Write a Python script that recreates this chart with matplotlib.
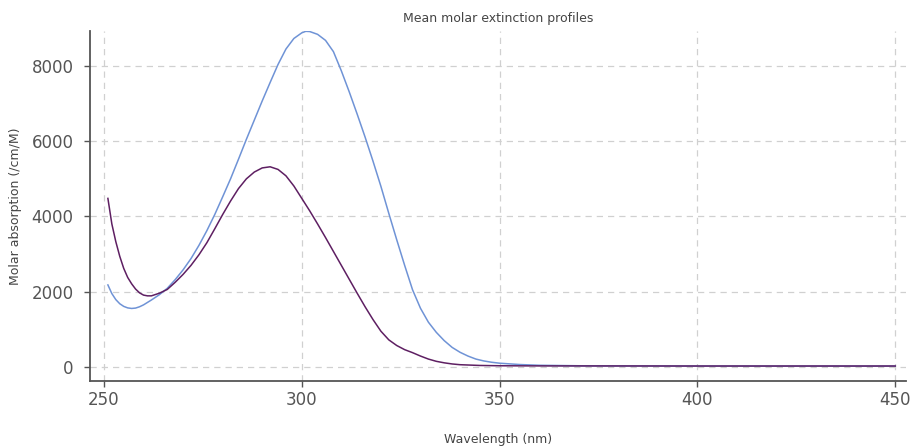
import matplotlib
matplotlib.use("Agg")
import matplotlib.pyplot as plt

# wavelengths (nm) and molar absorption (/cm/M)
wl_blue = [251, 252, 253, 254, 255, 256, 257, 258, 259, 260, 262, 264, 266, 268,
           270, 272, 274, 276, 278, 280, 282, 284, 286, 288, 290, 292, 294, 296,
           298, 300, 301, 302, 304, 306, 308, 310, 312, 314, 316, 318, 320, 322,
           324, 326, 328, 330, 332, 334, 336, 338, 340, 342, 344, 346, 348, 350,
           355, 360, 370, 380, 400, 420, 450]
abs_blue = [2180, 1950, 1790, 1680, 1610, 1570, 1555, 1565, 1600, 1650, 1780, 1920,
            2090, 2320, 2580, 2880, 3230, 3620, 4050, 4520, 5000, 5520, 6050, 6560,
            7070, 7560, 8040, 8450, 8730, 8880, 8920, 8915, 8840, 8680, 8380, 7870,
            7310, 6720, 6110, 5470, 4800, 4080, 3380, 2700, 2050, 1560, 1190, 920,
            700, 520, 390, 290, 210, 160, 125, 100, 65, 45, 32, 28, 25, 24, 24]

wl_purple = [251, 252, 253, 254, 255, 256, 257, 258, 259, 260, 261, 262, 264, 266,
             268, 270, 272, 274, 276, 278, 280, 282, 284, 286, 288, 290, 292, 294,
             296, 298, 300, 302, 304, 306, 308, 310, 312, 314, 316, 318, 320, 322,
             324, 326, 328, 330, 332, 334, 336, 338, 340, 345, 350, 360, 400, 450]
abs_purple = [4480, 3800, 3330, 2940, 2620, 2380, 2210, 2070, 1970, 1910, 1890, 1890,
              1960, 2060, 2250, 2460, 2700, 2980, 3300, 3670, 4050, 4410, 4740, 5000,
              5180, 5290, 5320, 5250, 5080, 4810, 4480, 4150, 3800, 3440, 3070, 2700,
              2330, 1960, 1600, 1260, 950, 720, 570, 460, 380, 290, 210, 150, 110,
              80, 60, 40, 32, 28, 25, 25]

x_ticks = [250, 300, 350, 400, 450]
y_ticks = [0, 2000, 4000, 6000, 8000]

fig = plt.figure(figsize=(9.1, 4.46), dpi=100)
ax = fig.add_axes([0.099, 0.146, 0.897, 0.785])

ax.plot(wl_blue, abs_blue, color="#6f93d6", lw=1.1)
ax.plot(wl_purple, abs_purple, color="#5e1f62", lw=1.1)

ax.set_xlim(246.5, 452.8)
ax.set_ylim(-370, 8935)
ax.set_xticks(x_ticks)
ax.set_yticks(y_ticks)

ax.grid(True, linestyle=(0, (5, 4)), color="#d0d0d0", lw=0.9)
ax.set_axisbelow(True)
for side in ["top", "right"]:
    ax.spines[side].set_visible(False)
for side in ["left", "bottom"]:
    ax.spines[side].set_color("#555555")
    ax.spines[side].set_linewidth(1.3)
ax.tick_params(colors="#555555", labelsize=12, length=4, width=1)
ax.tick_params(axis="y", pad=8)

ax.set_title("Mean molar extinction profiles", fontsize=9, color="#444444", pad=6)
ax.set_xlabel("Wavelength (nm)", fontsize=9, color="#444444", labelpad=17)
ax.set_ylabel("Molar absorption (/cm/M)", fontsize=9, color="#444444", labelpad=7)

fig.savefig("out.png", dpi=100)
